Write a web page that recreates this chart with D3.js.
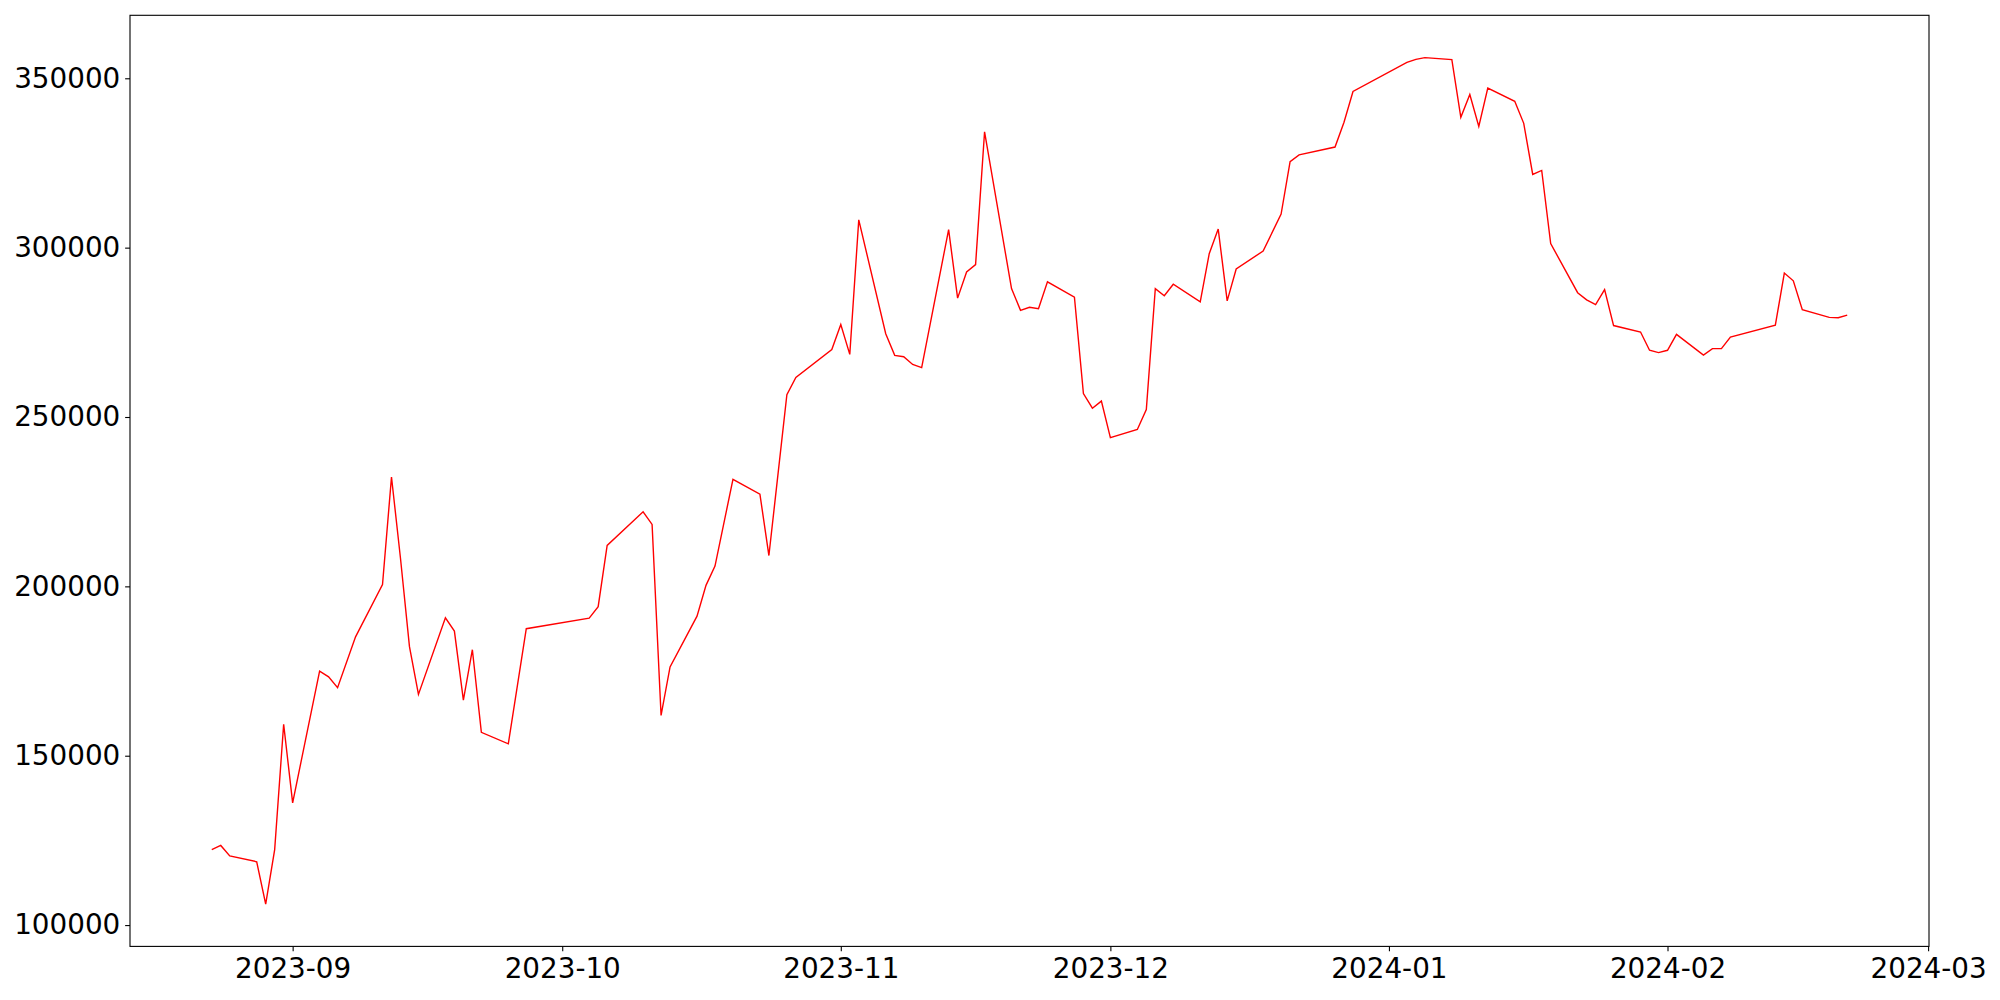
<!DOCTYPE html>
<html>
<head>
<meta charset="utf-8">
<script src="https://cdn.jsdelivr.net/npm/d3@7"></script>
<style>
  html, body { margin: 0; padding: 0; background: #fff; }
  svg { display: block; }
  text { font-family: "DejaVu Sans", sans-serif; }
</style>
</head>
<body>
<svg id="chart" width="2000" height="1000"></svg>
<script>
const dates = [
  "2023-08-23","2023-08-24","2023-08-25","2023-08-28","2023-08-29","2023-08-30","2023-08-31",
  "2023-09-01","2023-09-04","2023-09-05","2023-09-06","2023-09-08","2023-09-11","2023-09-12",
  "2023-09-13","2023-09-14","2023-09-15","2023-09-18","2023-09-19","2023-09-20","2023-09-21",
  "2023-09-22","2023-09-25","2023-09-27","2023-10-04","2023-10-05","2023-10-06","2023-10-10",
  "2023-10-11","2023-10-12","2023-10-13","2023-10-16","2023-10-17","2023-10-18","2023-10-20",
  "2023-10-23","2023-10-24","2023-10-26","2023-10-27","2023-10-31","2023-11-01","2023-11-02",
  "2023-11-03","2023-11-06","2023-11-07","2023-11-08","2023-11-09","2023-11-10","2023-11-13",
  "2023-11-14","2023-11-15","2023-11-16","2023-11-17","2023-11-20","2023-11-21","2023-11-22",
  "2023-11-23","2023-11-24","2023-11-27","2023-11-28","2023-11-29","2023-11-30","2023-12-01",
  "2023-12-04","2023-12-05","2023-12-06","2023-12-07","2023-12-08","2023-12-11","2023-12-12",
  "2023-12-13","2023-12-14","2023-12-15","2023-12-18","2023-12-20","2023-12-21","2023-12-22",
  "2023-12-26","2023-12-27","2023-12-28","2024-01-03","2024-01-04","2024-01-05","2024-01-08",
  "2024-01-09","2024-01-10","2024-01-11","2024-01-12","2024-01-15","2024-01-16","2024-01-17",
  "2024-01-18","2024-01-19","2024-01-22","2024-01-23","2024-01-24","2024-01-25","2024-01-26",
  "2024-01-29","2024-01-30","2024-01-31","2024-02-01","2024-02-02","2024-02-05","2024-02-06",
  "2024-02-07","2024-02-08","2024-02-13","2024-02-14","2024-02-15","2024-02-16","2024-02-19",
  "2024-02-20","2024-02-21"
];
const values = [
  122300,123500,120400,118700,106200,122300,159300,
  136100,175000,173300,170100,185100,200500,232300,
  208300,182200,168100,190700,186800,166400,181300,
  156900,153500,187500,190600,194000,212100,222000,
  218300,161900,176200,191200,200300,206000,231600,
  227200,209100,256600,261700,269900,277300,268500,
  308200,274600,268200,267800,265500,264600,305300,
  285100,292800,295000,334200,287900,281500,282400,
  282000,289900,285400,256900,252600,254700,243900,
  246300,252200,287900,285800,289200,284000,298200,
  305500,284300,293700,299000,309900,325400,327400,
  329700,337000,346100,354700,355600,356100,355500,
  338500,345200,335800,347100,343200,336700,321600,
  322800,301200,286700,284600,283200,287600,277000,
  275100,269700,269000,269700,274400,268300,270200,
  270200,273600,277100,292500,290200,281700,279400,
  279300,280100
];
const xTickLabels = ["2023-09","2023-10","2023-11","2023-12","2024-01","2024-02","2024-03"];
const yTickValues = [100000,150000,200000,250000,300000,350000];

const parse = d3.utcParse("%Y-%m-%d");
const parseMonth = d3.utcParse("%Y-%m");
const data = dates.map((d, i) => ({ date: parse(d), value: values[i] }));

const svg = d3.select("#chart");
const L = 130, R = 1929, T = 15.3, B = 946.4;

// matplotlib-like 5% margins
const xExt = d3.extent(data, d => +d.date);
const xPad = (xExt[1] - xExt[0]) * 0.05;
const x = d3.scaleUtc()
  .domain([new Date(xExt[0] - xPad), new Date(xExt[1] + xPad)])
  .range([L, R]);

const yExt = d3.extent(data, d => d.value);
const yPad = (yExt[1] - yExt[0]) * 0.05;
const y = d3.scaleLinear()
  .domain([yExt[0] - yPad, yExt[1] + yPad])
  .range([B, T]);

const fontSize = 27.8;
const tickLen = 4.86;

// x axis
const xAxis = d3.axisBottom(x)
  .tickValues(xTickLabels.map(parseMonth))
  .tickFormat(d3.utcFormat("%Y-%m"))
  .tickSize(tickLen)
  .tickPadding(4.86);
const gx = svg.append("g").attr("transform", `translate(0,${B})`).call(xAxis);
gx.select(".domain").remove();
gx.selectAll(".tick line").attr("stroke", "#000").attr("stroke-width", 1.1);
gx.selectAll(".tick text").attr("font-size", fontSize).attr("fill", "#000")
  .attr("font-family", "DejaVu Sans, sans-serif").attr("dy", "0.78em");

// y axis
const yAxis = d3.axisLeft(y)
  .tickValues(yTickValues)
  .tickFormat(d3.format("d"))
  .tickSize(tickLen)
  .tickPadding(4.86);
const gy = svg.append("g").attr("transform", `translate(${L},0)`).call(yAxis);
gy.select(".domain").remove();
gy.selectAll(".tick line").attr("stroke", "#000").attr("stroke-width", 1.1);
gy.selectAll(".tick text").attr("font-size", fontSize).attr("fill", "#000")
  .attr("font-family", "DejaVu Sans, sans-serif");

// line
const line = d3.line().x(d => x(d.date)).y(d => y(d.value));
svg.append("path")
  .datum(data)
  .attr("fill", "none")
  .attr("stroke", "#ff0000")
  .attr("stroke-width", 1.4)
  .attr("stroke-linejoin", "miter")
  .attr("d", line);

// frame
svg.append("rect")
  .attr("x", L).attr("y", T)
  .attr("width", R - L).attr("height", B - T)
  .attr("fill", "none").attr("stroke", "#000").attr("stroke-width", 1.1);
</script>
</body>
</html>
